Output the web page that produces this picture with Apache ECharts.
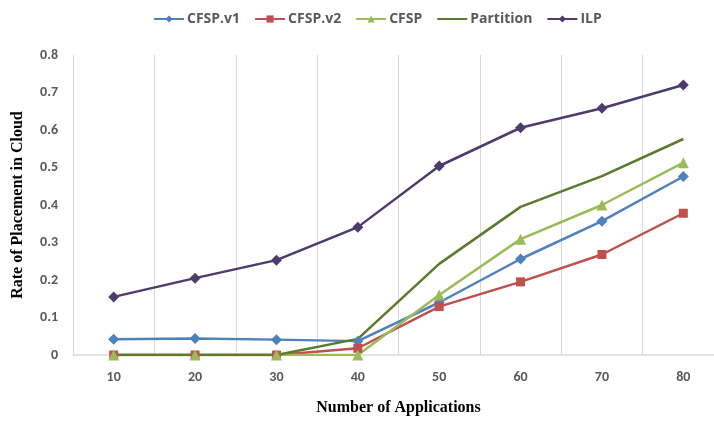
<!DOCTYPE html>
<html><head><meta charset="utf-8">
<script src="https://cdn.jsdelivr.net/npm/echarts@6/dist/echarts.min.js"></script>
<style>html,body{margin:0;padding:0;background:#fff}#c{width:714px;height:421px}</style>
</head><body><div id="c"></div>
<script>
const categories = ['10','20','30','40','50','60','70','80'];
const cfspV1 = [0.042,0.044,0.041,0.037,0.14,0.256,0.357,0.476];
const cfspV2 = [0,0,0,0.018,0.129,0.195,0.268,0.378];
const cfsp = [0,0,0,0,0.16,0.309,0.40,0.513];
const partition = [0,0,0,0.043,0.243,0.395,0.477,0.576];
const ilp = [0.155,0.205,0.253,0.341,0.504,0.606,0.658,0.72];

const chart = echarts.init(document.getElementById('c'));
const lbl = {color:'#595959', fontWeight:'bold', fontSize:14, fontFamily:'Carlito, "Open Sans", sans-serif'};
function s(name, data, color, symbol, size){
  return {name, type:'line', data, symbol, symbolSize:size, showSymbol: symbol!=='none',
    lineStyle:{color, width:2.5}, itemStyle:{color}, color};
}
chart.setOption({
  animation:false,
  legend:{top:7, left:148, itemGap:14, itemWidth:30, itemHeight:9,
    data:['CFSP.v1','CFSP.v2','CFSP',{name:'Partition', itemStyle:{opacity:0}},'ILP'],
    textStyle:{color:'#595959', fontWeight:'bold', fontSize:14, fontFamily:'"Open Sans", sans-serif', padding:[0,0,0,-2]}},
  grid:{left:73, top:55, bottom:66, width:651, outerBoundsMode:'none', containLabel:false},
  xAxis:{type:'category', data:categories, boundaryGap:true,
    name:'Number of Applications', nameLocation:'middle', nameGap:45,
    nameTextStyle:{color:'#000', fontWeight:'bold', fontSize:16, fontFamily:'"Liberation Serif", serif'},
    axisLine:{lineStyle:{color:'#d9d9d9', width:1.5}}, axisTick:{show:false},
    axisLabel:Object.assign({margin:15}, lbl),
    splitLine:{show:true, lineStyle:{color:'#d9d9d9', width:1}}},
  yAxis:{type:'value', min:0, max:0.8, interval:0.1,
    name:'Rate of Placement in Cloud', nameLocation:'middle', nameGap:47,
    nameTextStyle:{color:'#000', fontWeight:'bold', fontSize:16, fontFamily:'"Liberation Serif", serif'},
    axisLine:{show:true, lineStyle:{color:'#d9d9d9'}}, axisTick:{show:false},
    axisLabel:Object.assign({margin:15, formatter:v=>String(Math.round(v*10)/10)}, lbl),
    splitLine:{show:false}},
  series:[
    s('CFSP.v1', cfspV1, '#4f81bd', 'diamond', 11),
    s('CFSP.v2', cfspV2, '#c0504d', 'rect', 9),
    s('CFSP', cfsp, '#9bbb59', 'triangle', 11),
    s('Partition', partition, '#5a7a2c', 'none', 0),
    s('ILP', ilp, '#4e3b6e', 'diamond', 11)
  ]
});
</script></body></html>
